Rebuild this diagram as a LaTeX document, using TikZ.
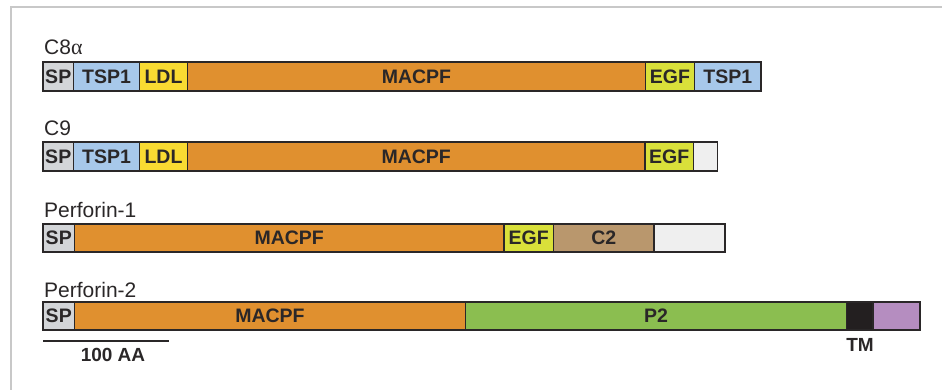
\documentclass[tikz,border=0pt]{standalone}
\usepackage{fontspec}
\setmainfont{Liberation Sans}
\newfontfamily\serifgr{Liberation Serif}
\definecolor{ink}{HTML}{2A2728}
\definecolor{cSP}{HTML}{D3D5D8}
\definecolor{cTSP}{HTML}{A7C8EA}
\definecolor{cLDL}{HTML}{F9DB32}
\definecolor{cMAC}{HTML}{E0902F}
\definecolor{cEGF}{HTML}{D9E03A}
\definecolor{cC2}{HTML}{B9976D}
\definecolor{cWH}{HTML}{EFEFEF}
\definecolor{cP2}{HTML}{8BBE50}
\definecolor{cTM}{HTML}{231F20}
\definecolor{cPU}{HTML}{B58DC0}
\definecolor{frame}{HTML}{C8C8C8}
\tikzset{
  dombox/.style={draw=ink, line width=1.8pt, inner sep=0pt, minimum height=28.5pt,
    text=ink, font=\fontsize{19.5}{19.5}\selectfont\bfseries},
  protname/.style={anchor=base west, inner sep=0pt, text=ink, font=\fontsize{21}{21}\selectfont},
  boldlab/.style={anchor=base, inner sep=0pt, text=ink, font=\fontsize{19}{19}\selectfont\bfseries}
}
\newcommand{\domainbox}[6]{%
  \node[dombox, fill=#5, minimum width={#3-#2}] (#1) at ({(#2+#3)/2},#4) {#6};}
\begin{document}
\begin{tikzpicture}[x=1pt,y=-1pt]
\useasboundingbox (0,0) rectangle (942,390);
% frame of the screenshot
\coordinate (fr1) at (942,7);
\coordinate (fr2) at (11,7);
\coordinate (fr3) at (11,390);
\draw[frame, line width=1.4pt] (fr1) -- (fr2) -- (fr3);

% C8alpha
\node[protname] (n1) at (44,55) {C8{\serifgr\fontsize{22}{22}\selectfont α}};
\domainbox{a1}{43}{73.5}{76.5}{cSP}{SP}
\domainbox{a2}{73.5}{139.5}{76.5}{cTSP}{TSP1}
\domainbox{a3}{139.5}{187.5}{76.5}{cLDL}{LDL}
\domainbox{a4}{187.5}{645.5}{76.5}{cMAC}{MACPF}
\domainbox{a5}{645.5}{694.5}{76.5}{cEGF}{EGF}
\domainbox{a6}{694.5}{761}{76.5}{cTSP}{TSP1}

% C9
\node[protname] (n2) at (44,136) {C9};
\domainbox{b1}{43}{73.5}{156.5}{cSP}{SP}
\domainbox{b2}{73.5}{139.5}{156.5}{cTSP}{TSP1}
\domainbox{b3}{139.5}{187.5}{156.5}{cLDL}{LDL}
\domainbox{b4}{187.5}{645}{156.5}{cMAC}{MACPF}
\domainbox{b5}{645}{693.5}{156.5}{cEGF}{EGF}
\domainbox{b6}{693.5}{717.5}{156.5}{cWH}{}

% Perforin-1
\node[protname] (n3) at (44,218) {Perforin-1};
\domainbox{c1}{43}{74.5}{238}{cSP}{SP}
\domainbox{c2}{74.5}{504}{238}{cMAC}{MACPF}
\domainbox{c3}{504}{553.5}{238}{cEGF}{EGF}
\domainbox{c4}{553.5}{654}{238}{cC2}{C2}
\domainbox{c5}{654}{725}{238}{cWH}{}

% Perforin-2
\node[protname] (n4) at (44,297) {Perforin-2};
\domainbox{d1}{43}{74.5}{316}{cSP}{SP}
\domainbox{d2}{74.5}{465.5}{316}{cMAC}{MACPF}
\domainbox{d3}{465.5}{846.5}{316}{cP2}{P2}
\domainbox{d4}{846.5}{873}{316}{cTM}{}
\domainbox{d5}{873}{920}{316}{cPU}{}
\node[boldlab] (tm) at (860,351) {TM};

% scale bar
\coordinate (s1) at (43,341);
\coordinate (s2) at (169,341);
\draw[ink, line width=1.8pt] (s1) -- (s2);
\node[boldlab] (sl) at (113,361) {100 AA};
\end{tikzpicture}
\end{document}
